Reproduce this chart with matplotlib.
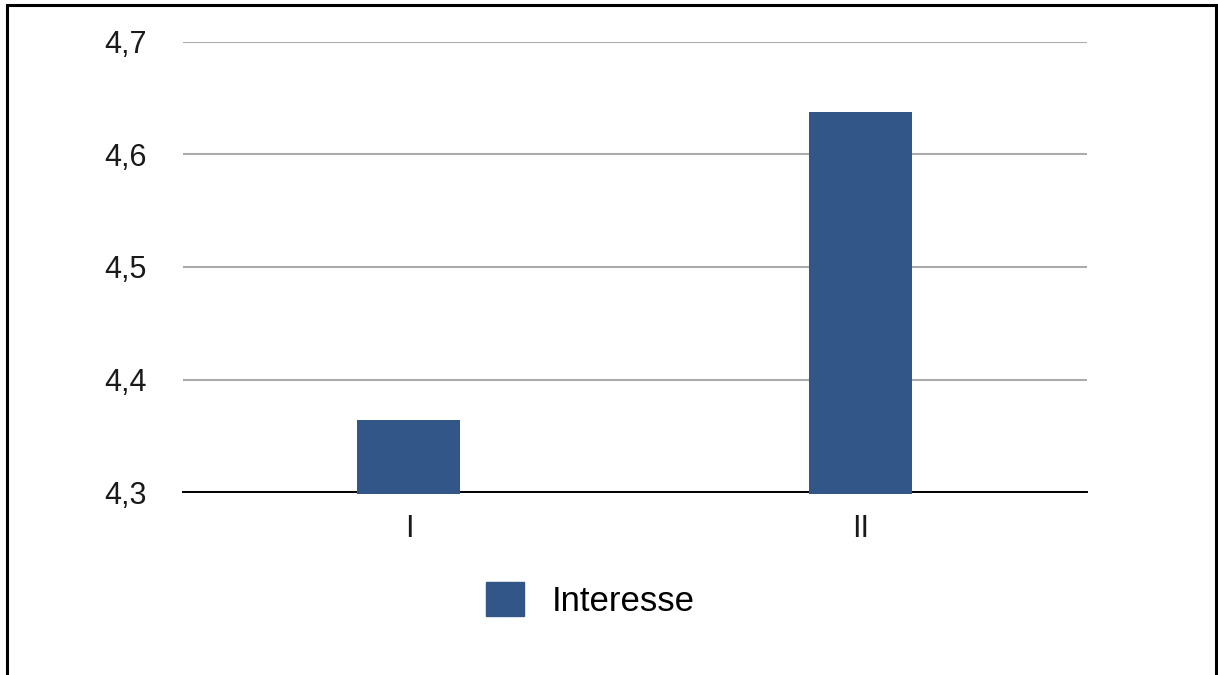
import matplotlib.pyplot as plt
from matplotlib.patches import Rectangle, Patch

categories = ['I', 'II']
interesse = [4.364, 4.638]
y_ticks = [4.3, 4.4, 4.5, 4.6, 4.7]
y_labels = ['4,3', '4,4', '4,5', '4,6', '4,7']

plt.rcParams['font.family'] = ['Liberation Sans', 'DejaVu Sans']
bar_color = '#325687'
base = 4.298  # bars poke just under the axis line in the original

fig = plt.figure(figsize=(12.18, 6.75), dpi=100)
ax = fig.add_axes([0.1502, 0.2711, 0.7422, 0.6667])

x = range(len(categories))
ax.bar(x, [v - base for v in interesse], bottom=base, width=0.228,
       color=bar_color, zorder=3, clip_on=False)

ax.set_xlim(-0.5, 1.5)
ax.set_ylim(4.3, 4.7)
ax.set_xticks(list(x))
ax.set_xticklabels(categories, fontsize=22, color='#1a1a1a')
ax.set_yticks(y_ticks)
ax.set_yticklabels(y_labels, fontsize=22, color='#1a1a1a')
ax.tick_params(axis='y', length=0, pad=26)
ax.tick_params(axis='x', length=0, pad=16)

ax.grid(axis='y', color='#ababab', linewidth=1.5, zorder=0)
for side in ['top', 'right', 'left']:
    ax.spines[side].set_visible(False)
ax.spines['bottom'].set_color('black')
ax.spines['bottom'].set_linewidth(1.4)
ax.spines['bottom'].set_zorder(2)

# legend under the plot
handle = Patch(facecolor=bar_color, edgecolor=bar_color, label='Interesse')
fig.legend(handles=[handle], loc='center', bbox_to_anchor=(0.485, 1 - 600 / 675),
           frameon=False, fontsize=25, handlelength=1.1, handleheight=1.1,
           handletextpad=0.8)

# frame round the whole picture
fig.patches.append(Rectangle((7 / 1218, -0.05), 1209 / 1218, 1.05 - 5 / 675,
                             transform=fig.transFigure, fill=False,
                             edgecolor='black', linewidth=2.2))

fig.savefig('out.png', dpi=100)
